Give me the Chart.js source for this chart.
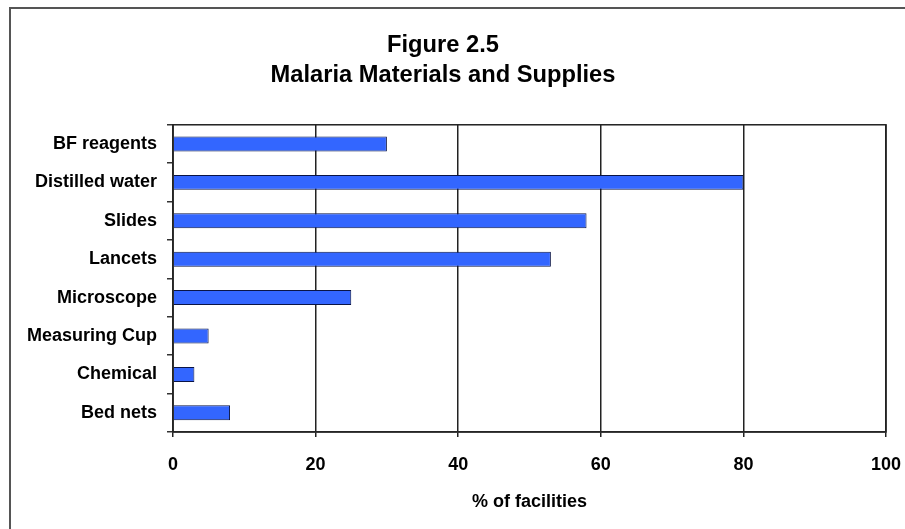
<!DOCTYPE html>
<html>
<head>
<meta charset="utf-8">
<title>Malaria Materials and Supplies</title>
<script src="https://cdn.jsdelivr.net/npm/chart.js@4/dist/chart.umd.min.js"></script>
<style>
    html, body { margin: 0; padding: 0; background: #fff; }
    #wrap { position: relative; width: 905px; height: 529px; overflow: hidden; }
    #frame {
        position: absolute; left: 9px; top: 7px; width: 905px; height: 529px;
        border-top: 2px solid #555; border-left: 2px solid #555;
        pointer-events: none;
    }
    canvas { position: absolute; left: 0; top: 0; }
</style>
</head>
<body>
<div id="wrap">
    <canvas id="suppliesChart" width="905" height="529"></canvas>
    <div id="frame"></div>
</div>
<script>
// Items checked at facilities, top to bottom
const categories = ['BF reagents', 'Distilled water', 'Slides', 'Lancets', 'Microscope', 'Measuring Cup', 'Chemical', 'Bed nets'];
// Share of facilities that had each item (%)
const percentValues = [30, 80, 58, 53, 25, 5, 3, 8];
// Values shown on the horizontal axis
const xTicks = [0, 20, 40, 60, 80, 100];

const titleLines = ['Figure 2.5', 'Malaria Materials and Supplies'];
const xAxisTitle = '% of facilities';

document.addEventListener('DOMContentLoaded', function () {
    const ctx = document.getElementById('suppliesChart').getContext('2d');
    const fontFamily = "'Liberation Sans', Arial, sans-serif";

    // outline round the plot area (top and right sides aren't drawn by the axes)
    const plotBox = {
        id: 'plotBox',
        afterDatasetsDraw(chart) {
            const { ctx, chartArea: a } = chart;
            ctx.save();
            ctx.strokeStyle = '#222';
            ctx.lineWidth = 1.5;
            ctx.strokeRect(a.left, a.top, a.right - a.left, a.bottom - a.top);
            ctx.restore();
        }
    };

    new Chart(ctx, {
        type: 'bar',
        data: {
            labels: categories,
            datasets: [{
                data: percentValues,
                backgroundColor: '#3366ff',
                borderColor: '#0a1445',
                borderWidth: 1,
                barPercentage: 0.39,
                categoryPercentage: 1
            }]
        },
        options: {
            indexAxis: 'y',
            responsive: false,
            animation: false,
            layout: { padding: { left: 0, right: 19, top: 0, bottom: 0 } },
            plugins: {
                legend: { display: false },
                tooltip: { enabled: false },
                title: {
                    display: true,
                    text: titleLines,
                    color: '#000',
                    font: { family: fontFamily, size: 23.7, weight: 'bold', lineHeight: 1.24 },
                    padding: { top: 31, bottom: 35 }
                }
            },
            scales: {
                x: {
                    min: 0,
                    max: 100,
                    afterBuildTicks(scale) {
                        scale.ticks = xTicks.map(v => ({ value: v }));
                    },
                    afterFit(scale) {
                        scale.height = 97;
                        // "100" fits inside the right padding, no extra room needed
                        scale.paddingLeft = 0;
                        scale.paddingRight = 0;
                    },
                    ticks: {
                        color: '#000',
                        padding: 17,
                        font: { family: fontFamily, size: 18, weight: 'bold' }
                    },
                    grid: { color: '#222', lineWidth: 1.5, tickLength: 5 },
                    border: { display: true, color: '#333', width: 1.5 },
                    title: {
                        display: true,
                        text: xAxisTitle,
                        color: '#000',
                        font: { family: fontFamily, size: 18, weight: 'bold' },
                        padding: { top: 0, bottom: 16 }
                    }
                },
                y: {
                    afterFit(scale) { scale.width = 173; },
                    ticks: {
                        color: '#000',
                        padding: 10,
                        font: { family: fontFamily, size: 18, weight: 'bold' }
                    },
                    grid: { offset: true, drawOnChartArea: false, color: '#333', lineWidth: 1.5, tickLength: 6 },
                    border: { display: true, color: '#333', width: 1.5 }
                }
            }
        },
        plugins: [plotBox]
    });
});
</script>
</body>
</html>
